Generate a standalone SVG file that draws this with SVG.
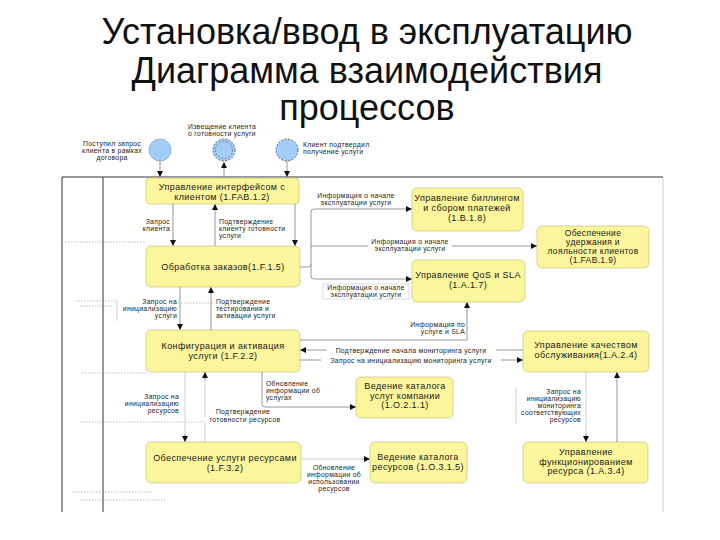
<svg xmlns="http://www.w3.org/2000/svg" width="720" height="540" viewBox="0 0 720 540">
<style>
.title{font-family:"Liberation Sans",Arial,sans-serif;font-size:36px;fill:#111;text-anchor:middle}
.box{fill:#fbf59b;stroke:#c9c27a;stroke-width:0.7}
.bt{font-family:"Liberation Sans",Arial,sans-serif;font-size:9px;letter-spacing:0.4px;fill:#1a1a1a;text-anchor:middle}
.bs{font-size:8.5px;letter-spacing:0.35px}
.lb{font-family:"Liberation Sans",Arial,sans-serif;font-size:6.8px;letter-spacing:0.3px;fill:#222}
.m{text-anchor:middle}
.e{text-anchor:end}
.con{fill:none;stroke:#8a8a8a;stroke-width:0.9}
.faint{fill:none;stroke:#c4c4c4;stroke-width:0.8}
.dots{fill:none;stroke:#a0a0a0;stroke-width:0.7;stroke-dasharray:1.5 1.5}
.frame{stroke:#333;stroke-width:1;fill:none}
.ev{fill:#a3cdf7}
.bg{fill:#fff}
.lbox{fill:#fff;stroke:#cfcfcf;stroke-width:0.7}
</style>
<defs>
<marker id="ah" markerWidth="6" markerHeight="6" refX="6" refY="3" orient="auto" markerUnits="userSpaceOnUse">
<path d="M0,0 L6,3 L0,6 z" fill="#111"/>
</marker>
</defs>
<rect width="720" height="540" fill="#fff"/>
<g id="title">
<text class="title" x="367" y="44">Установка/ввод в эксплуатацию</text>
<text class="title" x="367" y="83">Диаграмма взаимодействия</text>
<text class="title" x="367" y="120">процессов</text>
</g>
<g id="frame">
<path class="frame" d="M62,177 V512 M103,177 V512 M62,177 H663"/>
<path class="faint" d="M663,177 V512" stroke="#e4e4e4"/>
</g>
<g id="artifacts">
<path class="dots" d="M62,242 H146 M75,301 H115 M80,306 H113 M82,373 H148 M80,422 H207 M72,492 H152 M80,500 H167 M178,303 H213"/>
<path class="faint" d="M117,300 V321"/>
</g>
<g id="connectors">
<path class="con" d="M160,161 V177" marker-end="url(#ah)"/>
<path class="con" d="M224,178 V162" marker-end="url(#ah)"/>
<path class="con" d="M287,161 V177" marker-end="url(#ah)"/>
<path class="con" d="M173,204 V246" marker-end="url(#ah)"/>
<path class="con" d="M215,246 V204" marker-end="url(#ah)"/>
<path class="con" d="M295,204 V246" marker-end="url(#ah)"/>
<path class="con" d="M300,267 H308 Q311,267 311,264 V212 Q311,209 314,209 H412" marker-end="url(#ah)"/>
<path class="con" d="M311,246 H537" marker-end="url(#ah)"/>
<path class="con" d="M311,264 V276 Q311,279 314,279 H412" marker-end="url(#ah)"/>
<path class="con" d="M211,330 V287" marker-end="url(#ah)"/>
<path class="con" d="M180,287 V330" marker-end="url(#ah)"/>
<path class="con" d="M300,340 H467 V302" marker-end="url(#ah)"/>
<path class="con" d="M523,350 H300" marker-end="url(#ah)"/>
<path class="con" d="M300,360 H523" marker-end="url(#ah)"/>
<path class="con" d="M262,372 V404 Q262,407 265,407 H356" marker-end="url(#ah)"/>
<path class="faint" d="M205,442 V375"/>
<path class="con" d="M205,380 V372" marker-end="url(#ah)"/>
<path class="faint" d="M185,372 V438"/>
<path class="con" d="M185,434 V442" marker-end="url(#ah)"/>
<path class="faint" d="M301,459 H362"/>
<path class="con" d="M362,459 H370" marker-end="url(#ah)"/>
<path class="con" d="M617,442 V372" marker-end="url(#ah)"/>
<path class="faint" d="M586,372 V436"/>
<path class="con" d="M586,434 V442" marker-end="url(#ah)"/>
</g>
<g id="connector-labels">
<text class="lb e" x="170" y="224">Запрос</text>
<text class="lb e" x="170" y="231">клиента</text>
<text class="lb" x="219" y="224">Подтверждение</text>
<text class="lb" x="219" y="231">клиенту готовности</text>
<text class="lb" x="219" y="238">услуги</text>
<rect class="bg" x="314" y="192" width="84" height="15"/>
<text class="lb m" x="356" y="198">Информация о начале</text>
<text class="lb m" x="356" y="205">эксплуатации услуги</text>
<rect class="bg" x="368" y="238" width="84" height="15"/>
<text class="lb m" x="410" y="244">Информация о начале</text>
<text class="lb m" x="410" y="251">эксплуатации услуги</text>
<rect class="lbox" x="323" y="284" width="86" height="15"/>
<text class="lb m" x="366" y="290">Информация о начале</text>
<text class="lb m" x="366" y="297">эксплуатации услуги</text>
<text class="lb e" x="177" y="304">Запрос на</text>
<text class="lb e" x="177" y="311">инициализацию</text>
<text class="lb e" x="177" y="318">услуги</text>
<text class="lb" x="216" y="304">Подтверждение</text>
<text class="lb" x="216" y="311">тестирования и</text>
<text class="lb" x="216" y="318">активации услуги</text>
<text class="lb e" x="465" y="327">Информация по</text>
<text class="lb e" x="465" y="334">услуге и SLA</text>
<rect class="bg" x="326" y="346" width="170" height="7"/>
<text class="lb m" x="411" y="352.5">Подтверждение начала мониторинга услуги</text>
<rect class="bg" x="321" y="356" width="180" height="7"/>
<text class="lb m" x="411" y="362.5">Запрос на инициализацию мониторинга услуги</text>
<text class="lb" x="266" y="386">Обновление</text>
<text class="lb" x="266" y="393">информации об</text>
<text class="lb" x="266" y="400">услугах</text>
<text class="lb e" x="179" y="399">Запрос на</text>
<text class="lb e" x="179" y="406">инициализацию</text>
<text class="lb e" x="179" y="413">ресурсов</text>
<text class="lb m" x="243" y="414">Подтверждение</text>
<rect class="bg" x="204" y="417" width="82" height="6"/>
<text class="lb m" x="245" y="422">готовности ресурсов</text>
<text class="lb m" x="334" y="470">Обновление</text>
<text class="lb m" x="334" y="477">информации об</text>
<text class="lb m" x="334" y="484">использовании</text>
<text class="lb m" x="334" y="491">ресурсов</text>
<path class="faint" d="M516,388 V424"/>
<text class="lb e" x="581" y="394">Запрос на</text>
<text class="lb e" x="581" y="401">инициализацию</text>
<text class="lb e" x="581" y="408">мониторинга</text>
<text class="lb e" x="581" y="415">соответствующих</text>
<text class="lb e" x="581" y="422">ресурсов</text>
</g>
<g id="event-1">
<circle class="ev" cx="160" cy="150" r="11" stroke="#7fa9d6" stroke-width="0.8"/>
<text class="lb m" x="112" y="146">Поступил запрос</text>
<text class="lb m" x="112" y="153">клиента в рамках</text>
<text class="lb m" x="112" y="160">договора</text>
</g>
<g id="event-2">
<circle class="ev" cx="224" cy="150" r="11" stroke="#333" stroke-width="0.7" stroke-dasharray="2 1.5"/>
<circle cx="224" cy="150" r="8.5" fill="none" stroke="#555" stroke-width="0.6" stroke-dasharray="2 1.5"/>
<text class="lb m" x="222" y="129">Извещение клиента</text>
<text class="lb m" x="222" y="136">о готовности услуги</text>
</g>
<g id="event-3">
<circle class="ev" cx="287" cy="150" r="11" stroke="#333" stroke-width="0.7" stroke-dasharray="2 1.5"/>
<text class="lb" x="303" y="147">Клиент подтвердил</text>
<text class="lb" x="303" y="154">получение услуги</text>
</g>
<g id="p-1FAB12">
<rect class="box" x="146" y="178" width="153" height="26" rx="4"/>
<text class="bt" x="222" y="189.5">Управление интерфейсом с</text>
<text class="bt" x="222" y="199.5">клиентом (1.FAB.1.2)</text>
</g>
<g id="p-1F15">
<rect class="box" x="146" y="246" width="154" height="41" rx="5"/>
<text class="bt" x="223" y="270">Обработка заказов(1.F.1.5)</text>
</g>
<g id="p-1F22">
<rect class="box" x="146" y="330" width="154" height="42" rx="5"/>
<text class="bt" x="223" y="349">Конфигурация и активация</text>
<text class="bt" x="223" y="359">услуги (1.F.2.2)</text>
</g>
<g id="p-1F32">
<rect class="box" x="146" y="442" width="155" height="41" rx="5"/>
<text class="bt" x="225" y="461">Обеспечение услуги ресурсами</text>
<text class="bt" x="225" y="471">(1.F.3.2)</text>
</g>
<g id="p-1B18">
<rect class="box" x="412" y="188" width="111" height="43" rx="5"/>
<text class="bt" x="467" y="201">Управление биллингом</text>
<text class="bt" x="467" y="211">и сбором платежей</text>
<text class="bt" x="467" y="221">(1.B.1.8)</text>
</g>
<g id="p-1FAB19">
<rect class="box" x="537" y="226" width="112" height="42" rx="5"/>
<text class="bt bs" x="593" y="235.5">Обеспечение</text>
<text class="bt bs" x="593" y="244.5">удержания и</text>
<text class="bt bs" x="593" y="253.5">лояльности клиентов</text>
<text class="bt bs" x="593" y="262.5">(1.FAB.1.9)</text>
</g>
<g id="p-1A17">
<rect class="box" x="412" y="260" width="113" height="42" rx="5"/>
<text class="bt" x="468" y="278">Управление QoS и SLA</text>
<text class="bt" x="468" y="288">(1.A.1.7)</text>
</g>
<g id="p-1A24">
<rect class="box" x="523" y="331" width="126" height="41" rx="5"/>
<text class="bt" x="586" y="348">Управление качеством</text>
<text class="bt" x="586" y="358">обслуживания(1.A.2.4)</text>
</g>
<g id="p-1O211">
<rect class="box" x="356" y="377" width="97" height="41" rx="5"/>
<text class="bt" x="405" y="389">Ведение каталога</text>
<text class="bt" x="405" y="398.5">услуг компании</text>
<text class="bt" x="405" y="408">(1.O.2.1.1)</text>
</g>
<g id="p-1O315">
<rect class="box" x="370" y="442" width="97" height="41" rx="5"/>
<text class="bt" x="418" y="460">Ведение каталога</text>
<text class="bt" x="418" y="470">ресурсов (1.O.3.1.5)</text>
</g>
<g id="p-1A34">
<rect class="box" x="523" y="442" width="125" height="41" rx="5"/>
<text class="bt" x="586" y="455">Управление</text>
<text class="bt" x="586" y="464.5">функционированием</text>
<text class="bt" x="586" y="474">ресурса (1.A.3.4)</text>
</g>
</svg>
